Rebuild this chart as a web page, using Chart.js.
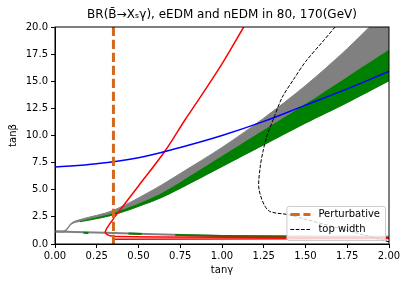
<!DOCTYPE html>
<html>
<head>
<meta charset="utf-8">
<script src="https://cdn.jsdelivr.net/npm/chart.js@4.4.1/dist/chart.umd.min.js"></script>
<style>
  body { margin: 0; background: #fff; }
  canvas { display: block; }
</style>
</head>
<body>
<canvas id="grafico" width="407" height="286"></canvas>
<script>
// faixas permitidas (cinza = BR, verde = BR + EDM), eixo x = tanγ
const faixaX = [0, 0.06, 0.1, 0.15, 0.35, 0.6, 0.75, 1.0, 1.25, 1.5, 1.75, 2.0]
const cinzaTopo = [1.22, 1.25, 1.95, 2.25, 3.1, 5.1, 6.5, 8.9, 11.6, 14.6, 18.0, 21.8]
const cinzaBase = [1.1, 1.1, 1.8, 2.05, 2.65, 4.0, 5.1, 7.1, 9.1, 11.1, 13.0, 15.0]

const verdeX = [0.15, 0.35, 0.6, 0.75, 1.0, 1.25, 1.5, 1.75, 2.0]
const verdeTopo = [2.1, 2.85, 4.4, 5.7, 8.1, 10.5, 12.9, 15.4, 17.9]
const verdeBase = [2.0, 2.65, 4.0, 5.1, 7.1, 9.1, 11.1, 13.0, 15.0]

// ramo de baixo (linha fina perto de tanβ ~ 1)
const baixoX = [0, 0.06, 0.3, 0.6, 1.0, 1.5, 2.0]
const baixoY = [1.14, 1.12, 1.03, 0.9, 0.74, 0.69, 0.66]
const baixoVerdeX = [0.17, 0.2, 0.21, 0.44, 0.52, 0.53, 0.72, 1.0, 1.39]
const baixoVerdeY = [1.03, 1.02, null, 0.97, 0.93, null, 0.84, 0.74, 0.7]

// contorno vermelho: ramo que sobe e a volta de baixo
const vermelhoX = [1.13, 1.0, 0.86, 0.778, 0.659, 0.5, 0.359]
const vermelhoY = [20, 16.6, 13.3, 11.43, 8.57, 5.35, 2.52]
const voltaX = [0.359, 0.33, 0.31, 0.3, 0.31, 0.33, 0.36, 0.6, 2.0]
const voltaY = [2.52, 1.9, 1.45, 1.1, 0.88, 0.75, 0.68, 0.64, 0.57]
const vermelho2X = [0.35, 0.35, 1.0, 2.0]
const vermelho2Y = [0.68, 0.43, 0.46, 0.5]

// curva azul
const azulX = [0, 0.25, 0.5, 0.75, 1.0, 1.25, 1.5, 1.75, 2.0]
const azulY = [7.1, 7.4, 7.95, 8.9, 10.0, 11.3, 12.8, 14.3, 15.9]

// largura do top (tracejado preto)
const topX = [1.677, 1.6, 1.5, 1.43, 1.36, 1.31, 1.27, 1.245, 1.228, 1.222, 1.277, 1.397, 2.0]
const topY = [20, 18.6, 16.8, 15.2, 13.5, 11.6, 10.0, 8.5, 7.0, 5.0, 3.1, 2.7, 0.2]

// limite perturbativo
const perturbX = [0.35, 0.35]
const perturbY = [0, 20]

const xTicks = [0, 0.25, 0.5, 0.75, 1.0, 1.25, 1.5, 1.75, 2.0]
const yTicks = [0, 2.5, 5, 7.5, 10, 12.5, 15, 17.5, 20]

const pontos = (xs, ys) => xs.map((x, i) => ({ x: x, y: ys[i] }))

const fonte = 'DejaVu Sans'

const moldura = {
  id: 'moldura',
  afterDatasetsDraw(chart) {
    const { ctx, chartArea: a } = chart
    ctx.save()
    ctx.strokeStyle = '#000'
    ctx.lineWidth = 1
    ctx.strokeRect(a.left, a.top, a.right - a.left, a.bottom - a.top)
    ctx.restore()
  }
}

const legenda = {
  id: 'legenda',
  afterDraw(chart) {
    const { ctx, chartArea: a } = chart
    const itens = chart.data.datasets.filter(d => d.naLegenda)
    ctx.save()
    ctx.font = '10px ' + fonte
    let larguraTexto = 0
    itens.forEach(d => { larguraTexto = Math.max(larguraTexto, ctx.measureText(d.label).width) })
    const w = 4 + 20 + 8 + larguraTexto + 5
    const h = 34
    const x0 = a.right - 4 - w
    const y0 = a.bottom - 4 - h
    ctx.beginPath()
    ctx.roundRect(x0 + 0.5, y0 + 0.5, w, h, 2)
    ctx.fillStyle = 'rgba(255,255,255,0.8)'
    ctx.fill()
    ctx.strokeStyle = '#cccccc'
    ctx.lineWidth = 1
    ctx.stroke()
    itens.forEach((d, i) => {
      const yc = y0 + 8.5 + i * 15
      ctx.beginPath()
      ctx.setLineDash(d.borderDash || [])
      ctx.strokeStyle = d.borderColor
      ctx.lineWidth = d.borderWidth
      ctx.moveTo(x0 + 4, yc)
      ctx.lineTo(x0 + 24, yc)
      ctx.stroke()
      ctx.setLineDash([])
      ctx.fillStyle = '#000'
      ctx.textBaseline = 'middle'
      ctx.fillText(d.label, x0 + 32, yc)
    })
    ctx.restore()
  }
}

const base = { pointRadius: 0, fill: false, tension: 0 }

new Chart(document.getElementById('grafico'), {
  type: 'line',
  data: {
    datasets: [
      { ...base, data: pontos(faixaX, cinzaTopo), fill: '+1', tension: 0.3, backgroundColor: '#808080', borderColor: '#808080', borderWidth: 1, order: 10, clip: 0 },
      { ...base, data: pontos(faixaX, cinzaBase), tension: 0.3, borderWidth: 0, borderColor: 'rgba(0,0,0,0)', order: 10, clip: 0 },
      { ...base, data: pontos(verdeX, verdeTopo), fill: '+1', tension: 0.3, backgroundColor: '#008000', borderWidth: 0, borderColor: 'rgba(0,0,0,0)', order: 9, clip: 0 },
      { ...base, data: pontos(verdeX, verdeBase), tension: 0.3, borderWidth: 0, borderColor: 'rgba(0,0,0,0)', order: 9, clip: 0 },
      { ...base, data: pontos(baixoX, baixoY), borderColor: '#808080', borderWidth: 2, order: 8 },
      { ...base, data: pontos(baixoVerdeX, baixoVerdeY), borderColor: '#008000', borderWidth: 2, spanGaps: false, order: 7 },
      { ...base, data: pontos(vermelhoX, vermelhoY), borderColor: '#ff0000', borderWidth: 1.5, tension: 0.3, order: 5 },
      { ...base, data: pontos(voltaX, voltaY), borderColor: '#ff0000', borderWidth: 1.5, order: 5 },
      { ...base, data: pontos(vermelho2X, vermelho2Y), borderColor: '#ff0000', borderWidth: 1.5, order: 5 },
      { ...base, data: pontos(azulX, azulY), borderColor: '#0000ff', borderWidth: 1.5, tension: 0.4, order: 4 },
      { ...base, label: 'Perturbative', naLegenda: true, data: pontos(perturbX, perturbY), borderColor: '#d2691e', borderWidth: 3, borderDash: [9.3, 3.7], order: 2, clip: 0 },
      { ...base, label: 'top width', naLegenda: true, data: pontos(topX, topY), borderColor: '#000000', borderWidth: 1, borderDash: [3.7, 1.6], tension: 0.3, order: 3 }
    ]
  },
  options: {
    responsive: false,
    animation: false,
    devicePixelRatio: 1,
    layout: { padding: { left: 0, right: 18, top: 0, bottom: 0 } },
    plugins: {
      legend: { display: false },
      tooltip: { enabled: false },
      title: {
        display: true,
        fullSize: false,
        text: 'BR(B̄→Xₛγ), eEDM and nEDM in 80, 170(GeV)',
        color: '#000',
        font: { family: fonte, size: 12, weight: 'normal', lineHeight: 1.2 },
        padding: { top: 8, bottom: 4.6 }
      }
    },
    scales: {
      x: {
        type: 'linear',
        min: 0,
        max: 2,
        afterBuildTicks: s => { s.ticks = xTicks.map(v => ({ value: v })) },
        afterFit: s => { s.height = 42 },
        ticks: {
          color: '#000',
          font: { family: fonte, size: 10 },
          padding: 2,
          maxRotation: 0,
          callback: v => v.toFixed(2)
        },
        grid: { drawOnChartArea: false, drawTicks: true, tickLength: 4, tickColor: '#000' },
        border: { color: '#000' },
        title: { display: true, text: 'tanγ', color: '#000', font: { family: fonte, size: 10 }, padding: { top: 4, bottom: 10 } }
      },
      y: {
        min: 0,
        max: 20,
        afterBuildTicks: s => { s.ticks = yTicks.map(v => ({ value: v })) },
        afterFit: s => { s.width = 55 },
        ticks: {
          color: '#000',
          font: { family: fonte, size: 10 },
          padding: 3,
          callback: v => v.toFixed(1)
        },
        grid: { drawOnChartArea: false, drawTicks: true, tickLength: 4, tickColor: '#000' },
        border: { color: '#000' },
        title: { display: true, text: 'tanβ', color: '#000', font: { family: fonte, size: 10 }, padding: { top: 7, bottom: 4 } }
      }
    }
  },
  plugins: [moldura, legenda]
})
</script>
</body>
</html>
